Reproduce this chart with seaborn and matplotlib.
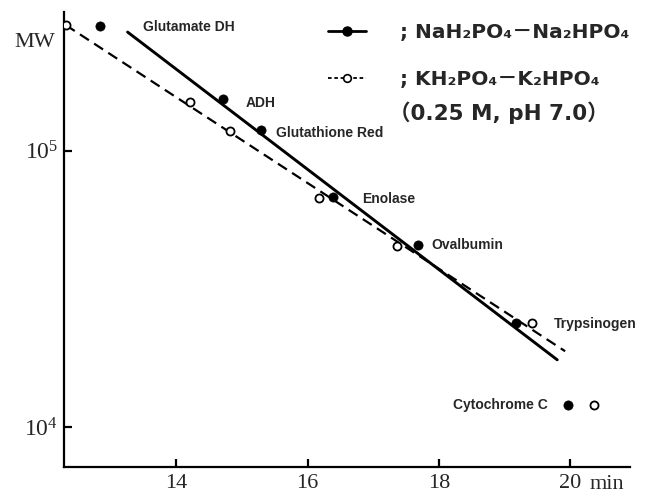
import numpy as np
import pandas as pd
import matplotlib
matplotlib.use("Agg")
import matplotlib.pyplot as plt
import seaborn as sns
from matplotlib.lines import Line2D
from matplotlib.ticker import NullLocator, FixedLocator
from matplotlib.font_manager import FontProperties

# ---------------- data ----------------
proteins = ["Glutamate DH", "ADH", "Glutathione Red", "Enolase",
            "Ovalbumin", "Trypsinogen", "Cytochrome C"]
na_time = [12.84, 14.71, 15.29, 16.39, 17.68, 19.17, 19.97]
na_mw = [2.83e5, 1.54e5, 1.19e5, 6.80e4, 4.55e4, 2.38e4, 1.20e4]
k_time = [12.32, 14.21, 14.82, 16.17, 17.36, 19.42, 20.36]
k_mw = [2.85e5, 1.50e5, 1.18e5, 6.74e4, 4.52e4, 2.38e4, 1.20e4]

na_fit_time = [13.26, 19.80]
na_fit_mw = [2.69e5, 1.75e4]
k_fit_time = [12.32, 19.92]
k_fit_mw = [2.85e5, 1.88e4]

label_time = [13.49, 15.05, 15.52, 16.83, 17.88, 19.75, 19.66]
label_mw = [2.81e5, 1.49e5, 1.16e5, 6.68e4, 4.55e4, 2.36e4, 1.20e4]
label_ha = ["left", "left", "left", "left", "left", "left", "right"]

x_ticks = [14, 16, 18, 20]
x_ticklabels = ["14", "16", "18", "20"]
y_ticks = [1e4, 1e5]
y_ticklabels = [r"$\mathregular{10^4}$", r"$\mathregular{10^5}$"]

legend_labels = ["; NaH₂PO₄－Na₂HPO₄", "; KH₂PO₄－K₂HPO₄"]
condition_text = "（0.25 M, pH 7.0）"

df_na = pd.DataFrame({"time": na_time, "mw": na_mw, "protein": proteins})
df_k = pd.DataFrame({"time": k_time, "mw": k_mw, "protein": proteins})
df_na_fit = pd.DataFrame({"time": na_fit_time, "mw": na_fit_mw})
df_k_fit = pd.DataFrame({"time": k_fit_time, "mw": k_fit_mw})

# ---------------- style ----------------
sns.set_style("ticks")
plt.rcParams["font.family"] = ["DejaVu Sans", "Noto Sans CJK JP"]
plt.rcParams["mathtext.fontset"] = "custom"
plt.rcParams["mathtext.rm"] = "Liberation Serif"
plt.rcParams["mathtext.it"] = "Liberation Serif:italic"

fig = plt.figure(figsize=(6.45, 5.0), dpi=100)
ax = fig.add_axes([0.099, 0.066, 0.878, 0.910])

# fit lines
sns.lineplot(data=df_k_fit, x="time", y="mw", ax=ax, color="black",
             lw=1.6, linestyle=(0, (4.8, 2.8)), estimator=None, sort=False)
sns.lineplot(data=df_na_fit, x="time", y="mw", ax=ax, color="black",
             lw=2.1, estimator=None, sort=False)

# points
sns.scatterplot(data=df_na, x="time", y="mw", ax=ax, color="black",
                s=44, marker="o", edgecolor="black", linewidth=0.5, zorder=4)
sns.scatterplot(data=df_k, x="time", y="mw", ax=ax, color="white",
                s=34, marker="o", edgecolor="black", linewidth=1.3, zorder=4)

ax.set_yscale("log")
ax.set_xlim(12.29, 20.91)
ax.set_ylim(7.16e3, 3.18e5)

ax.xaxis.set_major_locator(FixedLocator(x_ticks))
ax.set_xticklabels(x_ticklabels)
ax.yaxis.set_major_locator(FixedLocator(y_ticks))
ax.yaxis.set_minor_locator(NullLocator())
ax.set_yticklabels(y_ticklabels)

serif = FontProperties(family="Liberation Serif", size=16)
for t in ax.get_xticklabels():
    t.set_fontproperties(serif)
for t in ax.get_yticklabels():
    t.set_fontproperties(FontProperties(family="Liberation Serif", size=17))

ax.tick_params(axis="both", direction="in", length=6, width=1.6,
               color="black", pad=4)
ax.tick_params(axis="x", pad=5)
for s in ["left", "bottom"]:
    ax.spines[s].set_linewidth(1.6)
    ax.spines[s].set_color("black")
sns.despine(ax=ax)

ax.set_xlabel("min", fontproperties=serif)
ax.xaxis.set_label_coords(0.959, -0.017)
ax.xaxis.label.set_va("top")
ax.set_ylabel("MW", fontproperties=FontProperties(family="Liberation Serif", size=16),
              rotation=0, ha="center", va="center")
ax.yaxis.set_label_coords(-0.051, 0.934)

# point labels
lab_font = FontProperties(family=["Liberation Sans Narrow", "Liberation Sans"],
                          weight="bold", size=10)
for name, tx, my, ha in zip(proteins, label_time, label_mw, label_ha):
    ax.text(tx, my, name, ha=ha, va="center", fontproperties=lab_font)

# legend
h_na = Line2D([0], [0], color="black", lw=2.0, marker="o", ms=6.5)
h_k = Line2D([0], [0], color="black", lw=1.3, linestyle=(0, (2.0, 1.5)),
             marker="o", ms=5.5, mfc="white", mec="black", mew=1.2)
leg_font = FontProperties(family=["DejaVu Sans", "Noto Sans CJK JP"],
                          weight="bold", size=14.5)
ax.legend([h_na, h_k], legend_labels, loc="upper left",
          bbox_to_anchor=(0.466, 0.975), frameon=False, borderpad=0,
          borderaxespad=0, handlelength=1.9, handletextpad=1.7,
          labelspacing=1.35, prop=leg_font)
cond_font = FontProperties(family=["DejaVu Sans", "Noto Sans CJK JP"],
                           weight="bold", size=15.5)
ax.text(0.574, 0.778, condition_text, transform=ax.transAxes,
        ha="left", va="center", fontproperties=cond_font)

fig.savefig("out.png", dpi=100)
